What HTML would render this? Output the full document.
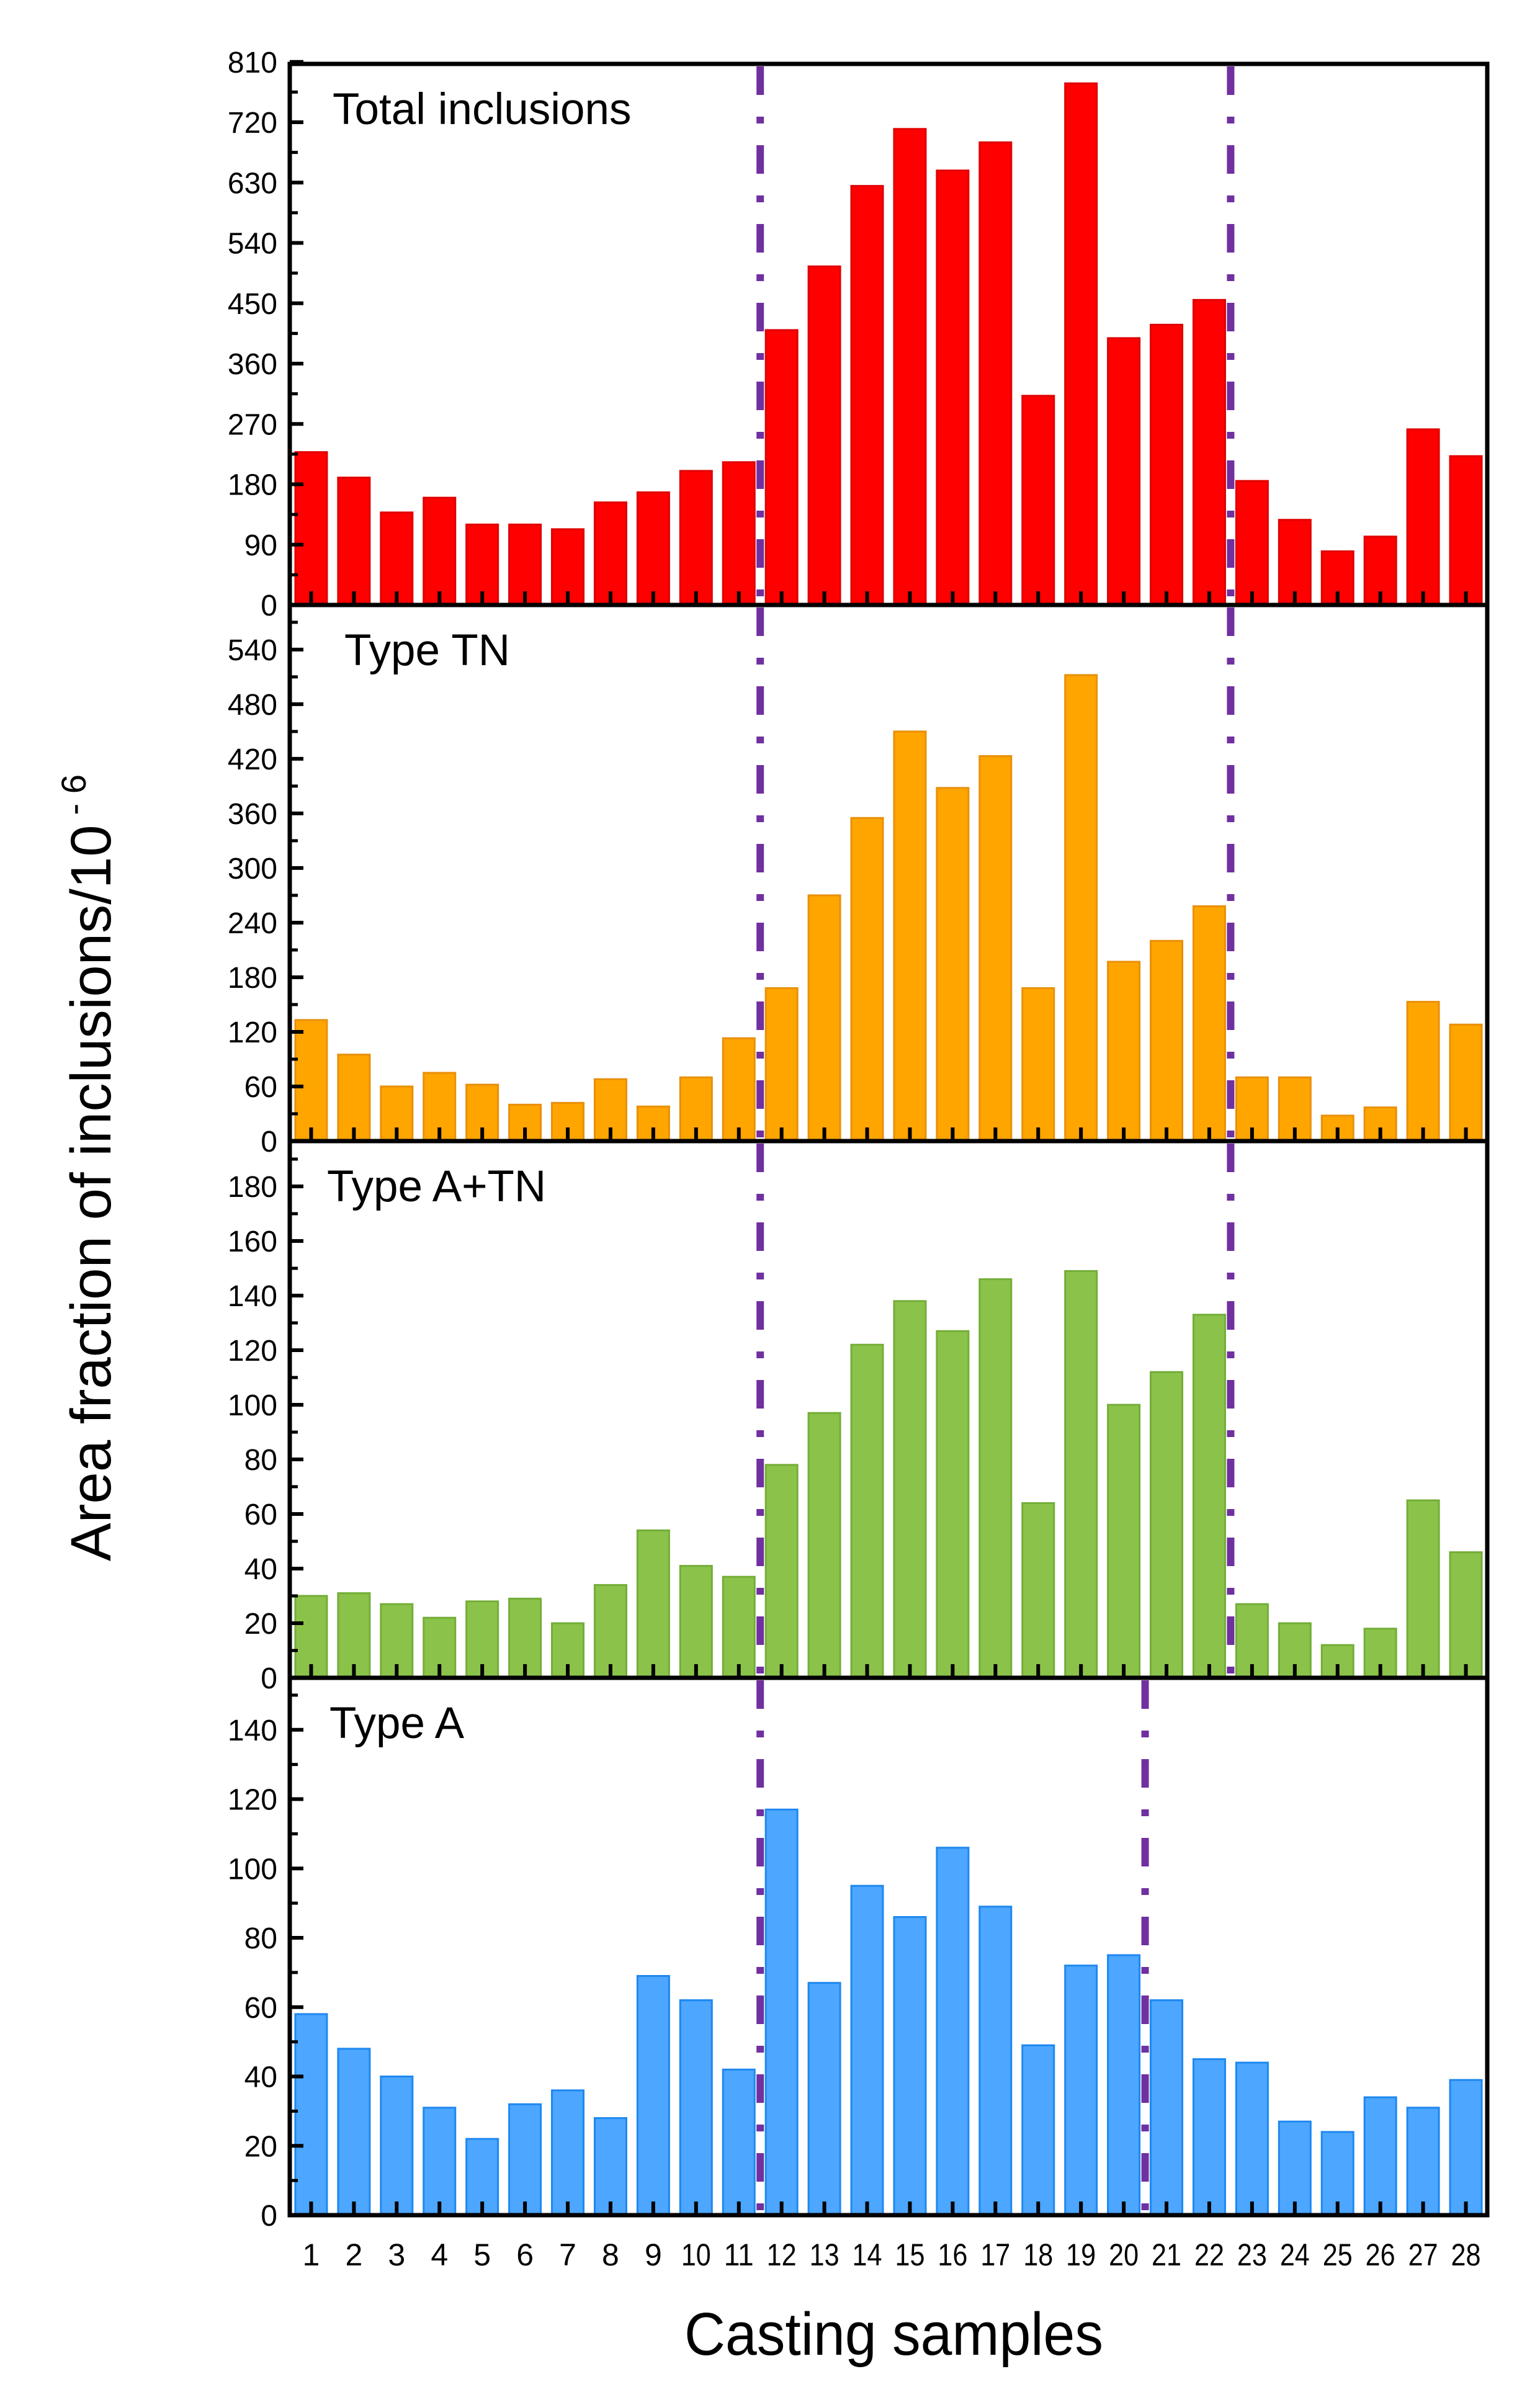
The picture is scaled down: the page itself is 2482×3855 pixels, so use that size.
<!DOCTYPE html>
<html><head><meta charset="utf-8"><style>html,body{margin:0;padding:0;background:#fff}svg{display:block}</style></head>
<body>
<svg id="chart" width="2482" height="3855" viewBox="0 0 2482 3855" xmlns="http://www.w3.org/2000/svg" font-family="'Liberation Sans', sans-serif">
<g id="layer"></g>
</svg>
<script>
const categories = [1,2,3,4,5,6,7,8,9,10,11,12,13,14,15,16,17,18,19,20,21,22,23,24,25,26,27,28];
const totalValues = [228,190,138,160,120,120,113,153,168,200,213,410,505,625,710,648,690,312,778,398,418,455,185,127,80,102,262,222];
const tnValues = [133,95,60,75,62,40,42,68,38,70,113,168,270,355,450,388,423,168,512,197,220,258,70,70,28,37,153,128];
const atnValues = [30,31,27,22,28,29,20,34,54,41,37,78,97,122,138,127,146,64,149,100,112,133,27,20,12,18,65,46];
const aValues = [58,48,40,31,22,32,36,28,69,62,42,117,67,95,86,106,89,49,72,75,62,45,44,27,24,34,31,39];
const totalTicks = [0,90,180,270,360,450,540,630,720,810];
const tnTicks = [0,60,120,180,240,300,360,420,480,540];
const atnTicks = [0,20,40,60,80,100,120,140,160,180];
const aTicks = [0,20,40,60,80,100,120,140];
const totalDividers = [11,22];
const tnDividers = [11,22];
const atnDividers = [11,22];
const aDividers = [11,20];

const NS='http://www.w3.org/2000/svg';
const layer=document.getElementById('layer');
const X0=467, X1=2397;
const step=(X1-X0)/categories.length;
function xCenter(i){return X0+(i+0.5)*step;}
function xBoundary(k){return X0+k*step;}
function mk(tag,attrs,parent){const e=document.createElementNS(NS,tag);for(const k in attrs)e.setAttribute(k,attrs[k]);(parent||layer).appendChild(e);return e;}

const panels=[
 {key:'total',title:'Total inclusions',tx:536,top:103,bottom:975,max:807,vals:totalValues,ticks:totalTicks,minor:45,div:totalDividers,fill:'#ff0000',stroke:'#e00000'},
 {key:'tn',title:'Type TN',tx:555,top:975,bottom:1839,max:589,vals:tnValues,ticks:tnTicks,minor:30,div:tnDividers,fill:'#ffa500',stroke:'#e8900a'},
 {key:'atn',title:'Type A+TN',tx:527,top:1839,bottom:2704,max:196.6,vals:atnValues,ticks:atnTicks,minor:10,div:atnDividers,fill:'#8bc34a',stroke:'#74ad38'},
 {key:'a',title:'Type A',tx:531,top:2704,bottom:3570,max:155,vals:aValues,ticks:aTicks,minor:10,div:aDividers,fill:'#4da6ff',stroke:'#1e88f0'}
];

panels.forEach(p=>{
  const g=mk('g',{});
  
  
  const y=v=>p.bottom-(v/p.max)*(p.bottom-p.top);
  const bw=step*0.74;
  p.vals.forEach((v,i)=>{
    const r=mk('rect',{x:xCenter(i)-bw/2,y:y(v),width:bw,height:p.bottom-y(v),fill:p.fill,stroke:p.stroke,'stroke-width':3},g);
    
    
  });
  p.div.forEach(k=>{
    const l=mk('line',{x1:xBoundary(k),x2:xBoundary(k),y1:p.top+4,y2:p.bottom,stroke:'#7030a0','stroke-width':12,'stroke-dasharray':'46 35 11 35'},g);
    
    
  });
  p.ticks.forEach(t=>{
    mk('line',{x1:X0,x2:X0+22,y1:y(t),y2:y(t),stroke:'#000','stroke-width':6},g);
    const tx=mk('text',{x:447,y:y(t)+17,'font-size':48,'text-anchor':'end',fill:'#000'},g);
    tx.textContent=t;
    
    
  });
  for(let m=p.minor;m<p.max;m+=p.minor*2){
    mk('line',{x1:X0,x2:X0+13,y1:y(m),y2:y(m),stroke:'#000','stroke-width':5},g);
  }
  categories.forEach((c,i)=>{
    mk('line',{x1:xCenter(i),x2:xCenter(i),y1:p.bottom,y2:p.bottom-22,stroke:'#000','stroke-width':6},g);
  });
  const t=mk('text',{x:p.tx,y:p.top+97,'font-size':71,fill:'#000'},g);
  t.textContent=p.title;
  
  
  const f=mk('rect',{x:X0,y:p.top,width:X1-X0,height:p.bottom-p.top,fill:'none',stroke:'#000','stroke-width':7},g);
  
  
});

categories.forEach((c,i)=>{
  const attrs={x:xCenter(i),y:3651,'font-size':50,'text-anchor':'middle',fill:'#000'};
  if(String(c).length>1){attrs.textLength=48;attrs.lengthAdjust='spacingAndGlyphs';}
  const t=mk('text',attrs);
  t.textContent=c;
  
  
});
</script>
<svg style="position:absolute;left:0;top:0" width="2482" height="3855" xmlns="http://www.w3.org/2000/svg" font-family="'Liberation Sans', sans-serif">
<text x="1103" y="3795" font-size="97" textLength="675" lengthAdjust="spacingAndGlyphs">Casting samples</text>
<text transform="translate(178,2516) rotate(-90)" x="0" y="0" font-size="92" textLength="1268" lengthAdjust="spacingAndGlyphs">Area fraction of inclusions/10<tspan font-size="56" dy="-40"> - 6</tspan></text>
</svg>
</body></html>
